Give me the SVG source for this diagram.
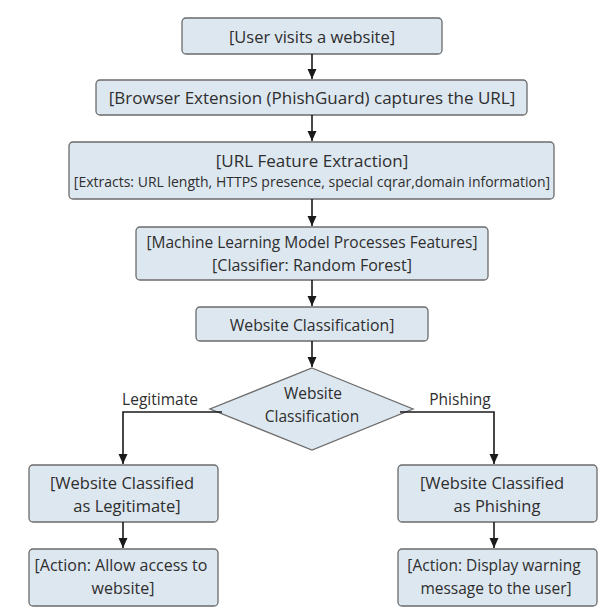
<svg xmlns="http://www.w3.org/2000/svg" width="610" height="610" viewBox="0 0 610 610">
<defs>
<marker id="arr" markerWidth="11" markerHeight="11" refX="10" refY="5.5" orient="auto" markerUnits="userSpaceOnUse">
<path d="M0,1 L10,5.5 L0,10 Z" fill="#1a1a1a"/>
</marker>
<style>
.box{fill:#dde7f0;stroke:#6b6b6b;stroke-width:1.3}
.t{font-family:"Open Sans","Noto Sans","Liberation Sans",sans-serif;font-size:15.5px;fill:#2e2e2e;text-anchor:middle;dominant-baseline:central}
.s{font-size:14px}
.m{font-size:16.5px}
.l{font-size:17px}
.c{fill:none;stroke:#1a1a1a;stroke-width:1.6;marker-end:url(#arr)}
</style>
</defs>
<rect width="610" height="610" fill="#ffffff"/>
<g id="n1"><rect class="box" x="182" y="18" width="260" height="36" rx="4"/><text class="t m" x="312" y="36">[User visits a website]</text></g>
<g id="n2"><rect class="box" x="96" y="80" width="431" height="35" rx="4"/><text class="t l" x="312" y="97">[Browser Extension (PhishGuard) captures the URL]</text></g>
<g id="n3"><rect class="box" x="69" y="142" width="485" height="57" rx="4"/><text class="t l" x="312" y="160">[URL Feature Extraction]</text><text class="t s" x="312" y="181">[Extracts: URL length, HTTPS presence, special cqrar,domain information]</text></g>
<g id="n4"><rect class="box" x="136" y="227" width="352" height="53" rx="4"/><text class="t" x="312" y="242">[Machine Learning Model Processes Features]</text><text class="t" x="312" y="265" style="font-size:16px">[Classifier: Random Forest]</text></g>
<g id="n5"><rect class="box" x="196" y="307" width="232" height="34" rx="4"/><text class="t" x="312" y="325" style="font-size:15.8px">Website Classification]</text></g>
<g id="d1"><polygon class="box" points="312,368 413,409 312,450 210,409"/><text class="t" x="313" y="393">Website</text><text class="t" x="312" y="416">Classification</text></g>
<g id="n6"><rect class="box" x="29" y="465" width="189" height="57" rx="4"/><text class="t m" x="122" y="482">[Website Classified</text><text class="t m" x="127" y="505">as Legitimate]</text></g>
<g id="n7"><rect class="box" x="29" y="549" width="189" height="57" rx="4"/><text class="t" x="121" y="565" style="font-size:16px">[Action: Allow access to</text><text class="t" x="123" y="588" style="font-size:16px">website]</text></g>
<g id="n8"><rect class="box" x="398" y="465" width="199" height="57" rx="4"/><text class="t m" x="492" y="482">[Website Classified</text><text class="t m" x="497" y="505">as Phishing</text></g>
<g id="n9"><rect class="box" x="398" y="549" width="199" height="57" rx="4"/><text class="t" x="494" y="565">[Action: Display warning</text><text class="t" x="496" y="588">message to the user]</text></g>
<g id="connectors">
<path class="c" d="M312,54 V79"/>
<path class="c" d="M312,115 V141"/>
<path class="c" d="M312,199 V226"/>
<path class="c" d="M312,280 V306"/>
<path class="c" d="M312,341 V367"/>
<path class="c" d="M222,412 H123 V464"/>
<path class="c" d="M400,412 H494 V464"/>
<path class="c" d="M123,522 V548"/>
<path class="c" d="M494,522 V548"/>
<text class="t" x="160" y="399">Legitimate</text>
<text class="t" x="460" y="399">Phishing</text>
</g>
</svg>
